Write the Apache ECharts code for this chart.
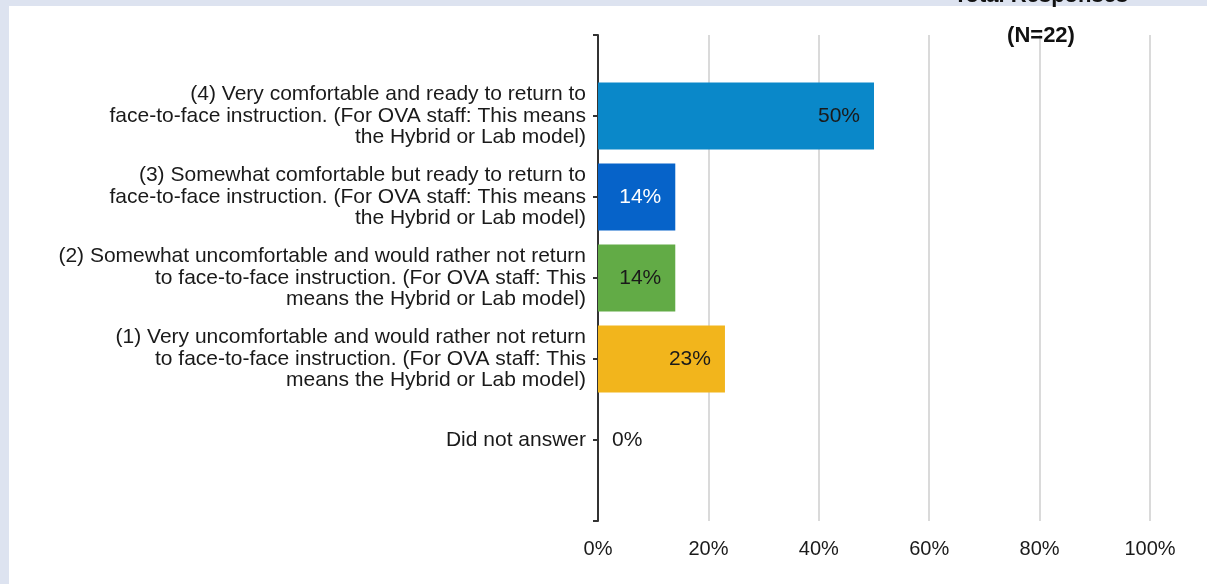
<!DOCTYPE html>
<html>
<head>
<meta charset="utf-8">
<script src="https://cdn.jsdelivr.net/npm/echarts@6/dist/echarts.min.js"></script>
<style>
html,body{margin:0;padding:0;background:#dde3f0;}
#chart{width:1207px;height:584px;}
</style>
</head>
<body>
<div id="chart"></div>
<script>
const categories = [
  "",
  "(4) Very comfortable and ready to return to\nface-to-face instruction. (For OVA staff: This means\nthe Hybrid or Lab model)",
  "(3) Somewhat comfortable but ready to return to\nface-to-face instruction. (For OVA staff: This means\nthe Hybrid or Lab model)",
  "(2) Somewhat uncomfortable and would rather not return\nto face-to-face instruction. (For OVA staff: This\nmeans the Hybrid or Lab model)",
  "(1) Very uncomfortable and would rather not return\nto face-to-face instruction. (For OVA staff: This\nmeans the Hybrid or Lab model)",
  "Did not answer",
  ""
];
const values = [null, 50, 14, 14, 23, 0, null];
const barColors = [null, "#0a88c9", "#0663c9", "#62ab46", "#f2b51c", "#888888", null];
const labelColors = [null, "#1a1a1a", "#ffffff", "#1a1a1a", "#1a1a1a", "#1a1a1a", null];
const xTicks = [0, 20, 40, 60, 80, 100];
const titleLines = ["Total Responses", "(N=22)"];

const FONT = "Liberation Sans, Arial, sans-serif";
const chart = echarts.init(document.getElementById('chart'), null, {renderer: 'canvas'});

const data = values.map((v, i) => {
  if (v === null) return {value: null};
  return {
    value: v,
    itemStyle: {color: barColors[i]},
    label: {
      position: v === 0 ? 'right' : 'insideRight',
      distance: 14,
      color: labelColors[i]
    }
  };
});

chart.setOption({
  backgroundColor: 'transparent',
  animation: false,
  graphic: [{
    type: 'rect', z: -10, silent: true,
    shape: {x: 9, y: 6, width: 1207 - 9, height: 584 - 6},
    style: {fill: '#ffffff'}
  }],
  title: [
    {text: titleLines[0], left: 1036, top: -20, textAlign: 'center',
     textStyle: {fontFamily: FONT, fontSize: 22, fontWeight: 'bold', color: '#111'}},
    {text: titleLines[1], left: 1036, top: 20, textAlign: 'center',
     textStyle: {fontFamily: FONT, fontSize: 22, fontWeight: 'bold', color: '#111'}}
  ],
  grid: {left: 598, right: 57, top: 35, bottom: 63, containLabel: false},
  xAxis: {
    type: 'value', min: 0, max: 100, interval: 20,
    axisLine: {show: false},
    axisTick: {show: false},
    axisLabel: {formatter: '{value}%', fontFamily: FONT, fontSize: 20, color: '#1a1a1a', margin: 18},
    splitLine: {show: true, lineStyle: {color: '#dadada', width: 2}}
  },
  yAxis: {
    type: 'category', data: categories, inverse: true, boundaryGap: false,
    axisLine: {show: true, lineStyle: {color: '#333', width: 2}},
    axisTick: {show: true, length: 5, lineStyle: {color: '#333', width: 2}},
    axisLabel: {fontFamily: FONT, fontSize: 21, color: '#1a1a1a', lineHeight: 21.5, align: 'right', margin: 12, interval: 0},
    splitLine: {show: false}
  },
  series: [{
    type: 'bar', data: data, barWidth: 67,
    label: {show: true, formatter: '{c}%', fontFamily: FONT, fontSize: 21},
    z: 3
  }]
});
</script>
</body>
</html>
